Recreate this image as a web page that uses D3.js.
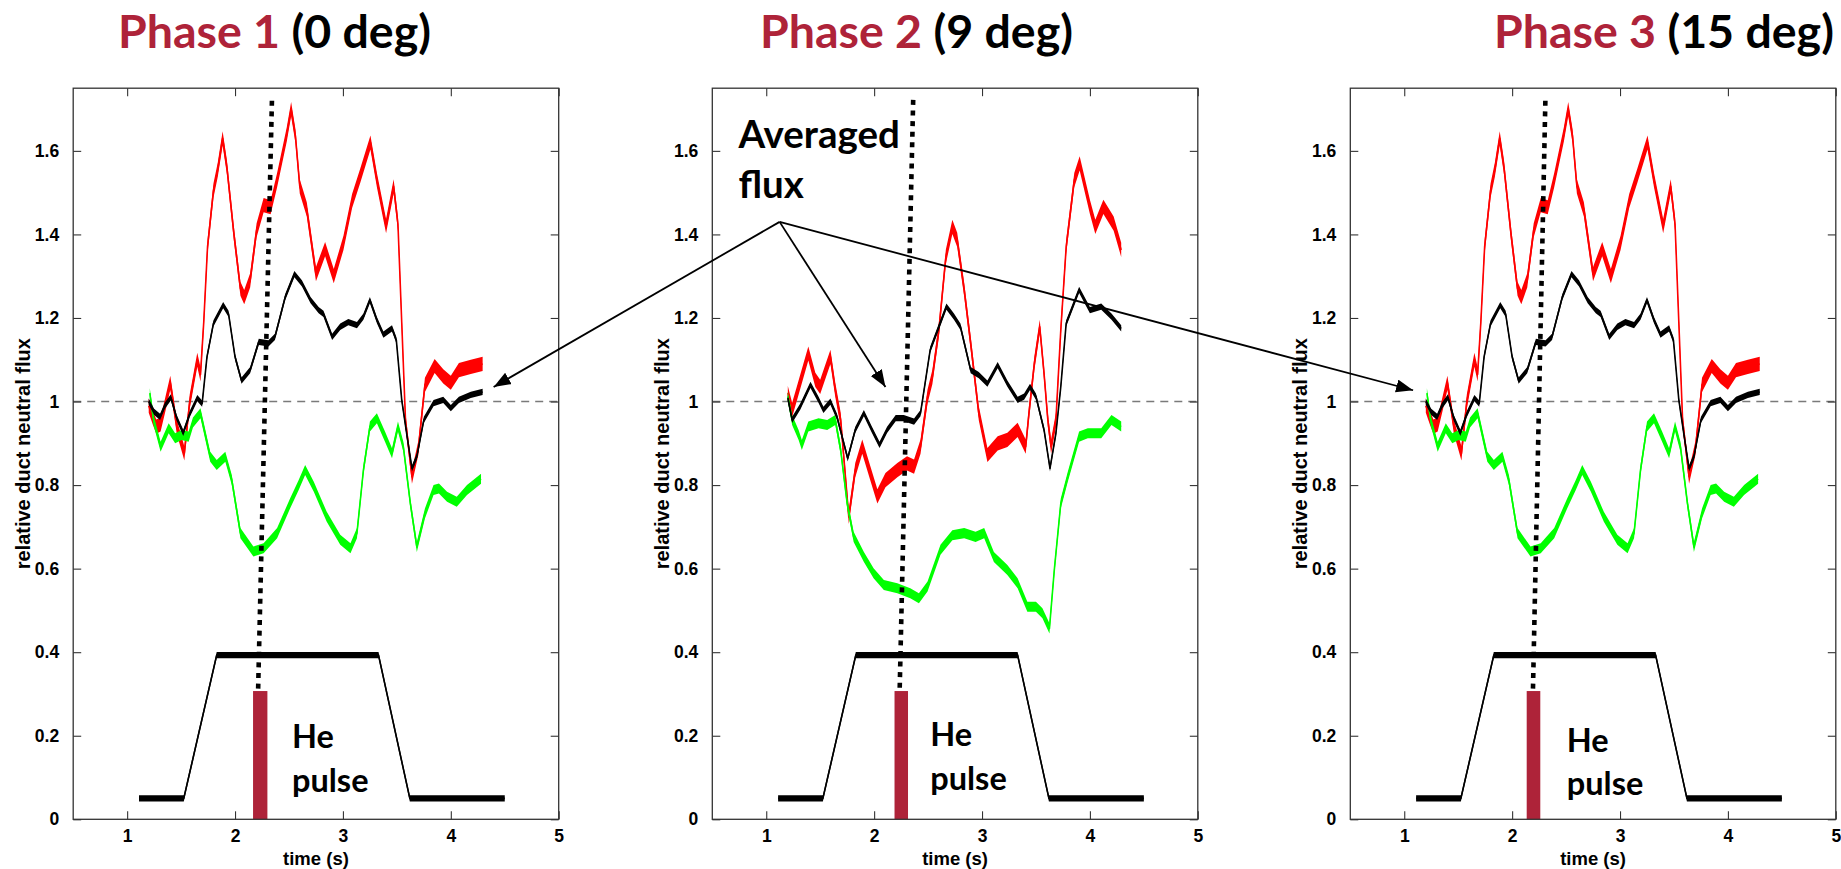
<!DOCTYPE html>
<html>
<head>
<meta charset="utf-8">
<script src="https://cdn.jsdelivr.net/npm/d3@7/dist/d3.min.js"></script>
<style>
  html, body { margin: 0; padding: 0; background: #ffffff; }
  svg { display: block; }
</style>
</head>
<body>
<svg id="chart" width="1841" height="869"></svg>
<script>
// ---------- Axis ticks ----------
const xTicks = [1, 2, 3, 4, 5];
const yTicks = [0, 0.2, 0.4, 0.6, 0.8, 1, 1.2, 1.4, 1.6];
const yTickLabels = ["0", "0.2", "0.4", "0.6", "0.8", "1", "1.2", "1.4", "1.6"];
const xDomain = [0.5, 5];
const yDomain = [0, 1.75];
const referenceLevel = 1;

// ---------- Panel titles ----------
const phaseNames = ["Phase 1", "Phase 2", "Phase 3"];
const phaseAngles = ["(0 deg)", "(9 deg)", "(15 deg)"];

// ---------- Phase 1 (0 deg): relative duct neutral flux, [time s, flux] ----------
const phase1Red = [
  [1.20,0.99],[1.24,0.96],[1.27,0.94],[1.31,0.945],[1.36,1.00],[1.40,1.045],[1.46,0.94],
  [1.53,0.876],[1.58,1.00],[1.65,1.10],[1.68,1.065],[1.71,1.19],[1.745,1.37],[1.80,1.505],
  [1.84,1.555],[1.885,1.63],[1.925,1.56],[1.99,1.40],[2.05,1.27],[2.085,1.25],[2.14,1.29],
  [2.20,1.41],[2.265,1.47],[2.33,1.465],[2.39,1.53],[2.48,1.64],[2.52,1.70],[2.56,1.635],
  [2.60,1.515],[2.665,1.46],[2.75,1.305],[2.835,1.365],[2.915,1.30],[3.005,1.38],[3.085,1.48],
  [3.16,1.54],[3.255,1.62],[3.315,1.53],[3.40,1.42],[3.47,1.515],[3.51,1.425],[3.545,1.19],
  [3.58,0.955],[3.64,0.82],[3.70,0.89],[3.76,1.04],[3.85,1.085],[3.93,1.06],[4.00,1.045],
  [4.075,1.075],[4.185,1.083],[4.295,1.09]
];
const phase1Green = [
  [1.21,1.02],[1.245,0.956],[1.31,0.892],[1.385,0.936],[1.445,0.912],[1.505,0.92],[1.57,0.916],
  [1.61,0.95],[1.68,0.972],[1.77,0.868],[1.83,0.848],[1.91,0.868],[1.97,0.812],[2.05,0.685],
  [2.17,0.641],[2.265,0.649],[2.39,0.685],[2.51,0.756],[2.59,0.80],[2.65,0.836],[2.73,0.796],
  [2.85,0.724],[2.975,0.669],[3.07,0.649],[3.13,0.685],[3.19,0.836],[3.25,0.94],[3.315,0.96],
  [3.39,0.916],[3.455,0.876],[3.51,0.94],[3.56,0.892],[3.625,0.756],[3.685,0.652],[3.76,0.732],
  [3.84,0.788],[3.89,0.792],[3.965,0.772],[4.055,0.76],[4.15,0.788],[4.28,0.815]
];
const phase1Average = [
  [1.20,1.00],[1.25,0.975],[1.305,0.963],[1.35,0.99],[1.405,1.01],[1.46,0.96],[1.52,0.925],
  [1.58,0.97],[1.65,1.008],[1.695,0.995],[1.74,1.107],[1.80,1.187],[1.89,1.231],[1.94,1.21],
  [2.00,1.107],[2.06,1.05],[2.14,1.075],[2.22,1.143],[2.31,1.139],[2.37,1.155],[2.465,1.25],
  [2.55,1.305],[2.62,1.283],[2.70,1.243],[2.775,1.219],[2.82,1.21],[2.90,1.155],[2.975,1.179],
  [3.05,1.19],[3.13,1.183],[3.19,1.203],[3.25,1.243],[3.315,1.195],[3.375,1.16],[3.455,1.175],
  [3.495,1.147],[3.545,1.004],[3.595,0.916],[3.64,0.84],[3.685,0.868],[3.75,0.956],[3.84,0.996],
  [3.93,1.004],[4.00,0.984],[4.075,1.004],[4.185,1.016],[4.295,1.023]
];

// ---------- Phase 2 (9 deg) ----------
const phase2Red = [
  [1.20,1.02],[1.24,0.98],[1.285,1.02],[1.39,1.115],[1.455,1.052],[1.50,1.035],[1.595,1.107],
  [1.64,1.028],[1.69,0.956],[1.765,0.724],[1.825,0.836],[1.89,0.892],[1.965,0.828],[2.03,0.773],
  [2.105,0.812],[2.215,0.836],[2.305,0.852],[2.37,0.844],[2.43,0.892],[2.495,1.012],[2.54,1.059],
  [2.60,1.171],[2.665,1.347],[2.725,1.418],[2.77,1.387],[2.835,1.267],[2.895,1.139],[2.97,0.972],
  [3.05,0.872],[3.145,0.90],[3.235,0.908],[3.33,0.932],[3.405,0.892],[3.435,0.972],[3.485,1.091],
  [3.535,1.179],[3.575,1.067],[3.61,0.956],[3.64,0.892],[3.685,0.956],[3.73,1.171],[3.78,1.37],
  [3.855,1.53],[3.905,1.57],[4.00,1.466],[4.05,1.418],[4.125,1.466],[4.22,1.426],[4.29,1.363]
];
const phase2Green = [
  [1.20,1.012],[1.24,0.956],[1.30,0.92],[1.33,0.896],[1.39,0.94],[1.485,0.948],[1.565,0.944],
  [1.64,0.956],[1.69,0.884],[1.75,0.756],[1.81,0.676],[1.905,0.628],[1.995,0.589],[2.09,0.561],
  [2.215,0.553],[2.335,0.541],[2.415,0.529],[2.495,0.557],[2.615,0.645],[2.725,0.68],[2.835,0.685],
  [2.94,0.676],[3.02,0.685],[3.11,0.628],[3.235,0.597],[3.33,0.565],[3.42,0.509],[3.50,0.509],
  [3.56,0.493],[3.625,0.457],[3.67,0.597],[3.73,0.756],[3.795,0.82],[3.90,0.916],[3.98,0.924],
  [4.105,0.924],[4.20,0.956],[4.29,0.94]
];
const phase2Average = [
  [1.20,1.008],[1.24,0.956],[1.315,0.988],[1.41,1.04],[1.485,1.004],[1.53,0.98],[1.595,1.0],
  [1.655,0.964],[1.755,0.864],[1.825,0.932],[1.905,0.972],[1.98,0.932],[2.05,0.896],[2.12,0.932],
  [2.20,0.96],[2.275,0.96],[2.37,0.952],[2.43,0.972],[2.52,1.124],[2.60,1.179],[2.67,1.227],
  [2.74,1.203],[2.80,1.179],[2.895,1.075],[2.97,1.063],[3.05,1.043],[3.145,1.087],[3.235,1.043],
  [3.33,1.004],[3.39,1.012],[3.445,1.035],[3.50,1.012],[3.575,0.932],[3.63,0.84],[3.685,0.924],
  [3.73,1.035],[3.78,1.187],[3.90,1.267],[4.00,1.219],[4.105,1.227],[4.20,1.203],[4.29,1.175]
];

// ---------- Phase 3 (15 deg): same measured signals as phase 1 ----------
const phase3Red = phase1Red;
const phase3Green = phase1Green;
const phase3Average = phase1Average;

// ---------- Gas-puff waveform (common to all phases) ----------
const puffWaveform = [[1.11,0.05],[1.525,0.05],[1.83,0.393],[3.33,0.393],[3.62,0.05],[4.50,0.05]];

// ---------- He pulse timing per phase ----------
const hePulseStart = [2.167, 2.189, 2.135];
const hePulseEnd   = [2.300, 2.314, 2.261];
const hePulseLevel = 0.307;
// dotted timing guide: [t_top, v_top, t_bottom, v_bottom]
const timingGuide = [
  [2.342, 1.72, 2.214, 0.31],
  [2.362, 1.722, 2.237, 0.313],
  [2.308, 1.72, 2.193, 0.31]
];

// ---------- Annotations ----------
const heLabelAnchor = [[2.528, 0.170], [2.520, 0.175], [2.507, 0.162]];
const avgLabelAnchor = [0.742, 1.606];           // in phase 2 axes
const avgArrowApex = [1.124, 1.430];             // in phase 2 axes
const avgArrowTips = [[4.397, 1.035], [2.105, 1.035], [1.082, 1.027]]; // one per phase

// ---------- Layout & style ----------
const layout = {
  panelLeft: [73.2, 712.3, 1350.3],
  panelWidth: 485.5,
  top: 88.2,
  bottom: 819.3,
  titleX: [118, 760, 1494],
  titleY: 48,
  yLabelOffset: -50.5
};
const style = {
  red: "#ff0000", green: "#00ff00", black: "#000000",
  maroon: "#ae2339",
  frame: "#333333",
  bandRed: 0.017, bandGreen: 0.012, bandBlack: 0.0075, bandPuff: 0.0075,
  tickFont: "'Liberation Sans', Arial, Helvetica, sans-serif",
  noteFont: "Lato, 'Open Sans', sans-serif"
};

const panels = [
  { red: phase1Red, green: phase1Green, avg: phase1Average },
  { red: phase2Red, green: phase2Green, avg: phase2Average },
  { red: phase3Red, green: phase3Green, avg: phase3Average }
];

const svg = d3.select("#chart");
const scales = [];

function drawTrace(g, data, w, color, x, y) {
  g.append("path").datum(data)
    .attr("d", d3.area().x(d => x(d[0])).y0(d => y(d[1] - w)).y1(d => y(d[1] + w)))
    .attr("fill", color);
  g.append("path").datum(data)
    .attr("d", d3.line().x(d => x(d[0])).y(d => y(d[1])))
    .attr("fill", "none").attr("stroke", color)
    .attr("stroke-width", 1.6).attr("stroke-linejoin", "round");
}

panels.forEach((p, i) => {
  const L = layout.panelLeft[i];
  const x = d3.scaleLinear().domain(xDomain).range([L, L + layout.panelWidth]);
  const y = d3.scaleLinear().domain(yDomain).range([layout.bottom, layout.top]);
  scales.push({ x, y });
  const g = svg.append("g").attr("class", "panel");

  // reference level
  g.append("line")
    .attr("x1", x(xDomain[0])).attr("x2", x(xDomain[1]))
    .attr("y1", y(referenceLevel)).attr("y2", y(referenceLevel))
    .attr("stroke", "#7a7a7a").attr("stroke-width", 1.4)
    .attr("stroke-dasharray", "8,6");

  // gas-puff waveform
  drawTrace(g, puffWaveform, style.bandPuff, style.black, x, y);

  // flux traces
  drawTrace(g, p.red, style.bandRed, style.red, x, y);
  drawTrace(g, p.green, style.bandGreen, style.green, x, y);
  drawTrace(g, p.avg, style.bandBlack, style.black, x, y);

  // He pulse bar
  g.append("rect")
    .attr("x", x(hePulseStart[i]))
    .attr("width", x(hePulseEnd[i]) - x(hePulseStart[i]))
    .attr("y", y(hePulseLevel))
    .attr("height", y(0) - y(hePulseLevel))
    .attr("fill", style.maroon);

  // dotted timing guide
  const tg = timingGuide[i];
  g.append("line")
    .attr("x1", x(tg[0])).attr("y1", y(tg[1]))
    .attr("x2", x(tg[2])).attr("y2", y(tg[3]))
    .attr("stroke", "#000").attr("stroke-width", 4.6)
    .attr("stroke-dasharray", "5,5.6");

  // axes (ticks pointing inward on all four sides)
  const fmtY = d => yTickLabels[yTicks.indexOf(d)];
  const axes = [
    { ax: d3.axisBottom(x).tickValues(xTicks).tickFormat(d3.format("d")).tickSizeInner(-8).tickSizeOuter(0).tickPadding(10), tr: `translate(0,${y(yDomain[0])})` },
    { ax: d3.axisTop(x).tickValues(xTicks).tickFormat("").tickSizeInner(-8).tickSizeOuter(0), tr: `translate(0,${y(yDomain[1])})` },
    { ax: d3.axisLeft(y).tickValues(yTicks).tickFormat(fmtY).tickSizeInner(-8).tickSizeOuter(0).tickPadding(14), tr: `translate(${x(xDomain[0])},0)` },
    { ax: d3.axisRight(y).tickValues(yTicks).tickFormat("").tickSizeInner(-8).tickSizeOuter(0), tr: `translate(${x(xDomain[1])},0)` }
  ];
  axes.forEach(a => {
    const ag = g.append("g").attr("transform", a.tr).call(a.ax);
    ag.select(".domain").remove();
    ag.selectAll(".tick line").attr("stroke", style.frame).attr("stroke-width", 1.1);
    ag.selectAll(".tick text")
      .attr("font-family", style.tickFont).attr("font-weight", "bold")
      .attr("font-size", 17.5).attr("fill", "#000");
  });

  // axes box
  g.append("rect")
    .attr("x", x(xDomain[0])).attr("y", y(yDomain[1]))
    .attr("width", x(xDomain[1]) - x(xDomain[0]))
    .attr("height", y(yDomain[0]) - y(yDomain[1]))
    .attr("fill", "none").attr("stroke", style.frame).attr("stroke-width", 1.3);

  // axis titles
  g.append("text")
    .attr("x", (x(xDomain[0]) + x(xDomain[1])) / 2).attr("y", 865)
    .attr("text-anchor", "middle")
    .attr("font-family", style.tickFont).attr("font-weight", "bold").attr("font-size", 18.5)
    .text("time (s)");
  const ly = (y(yDomain[0]) + y(yDomain[1])) / 2;
  const lx = L + layout.yLabelOffset;
  g.append("text")
    .attr("transform", `translate(${lx},${ly}) rotate(-90)`)
    .attr("text-anchor", "middle").attr("dy", "0.35em")
    .attr("font-family", style.tickFont).attr("font-weight", "bold").attr("font-size", 20)
    .text("relative duct neutral flux");

  // panel title
  const t = svg.append("text")
    .attr("x", layout.titleX[i]).attr("y", layout.titleY)
    .attr("font-family", style.noteFont).attr("font-weight", "bold").attr("font-size", 46.5);
  t.append("tspan").attr("fill", style.maroon).text(phaseNames[i]);
  t.append("tspan").attr("fill", "#000").text(" " + phaseAngles[i]);

  // He pulse label
  const ha = heLabelAnchor[i];
  const ht = g.append("text")
    .attr("font-family", style.noteFont).attr("font-weight", "bold").attr("font-size", 32.5)
    .attr("fill", "#000");
  ht.append("tspan").attr("x", x(ha[0])).attr("y", y(ha[1])).text("He");
  ht.append("tspan").attr("x", x(ha[0])).attr("dy", 43.5).text("pulse");
});

// "Averaged flux" callout with arrows into each phase
const s2 = scales[1];
const at = svg.append("text")
  .attr("font-family", style.noteFont).attr("font-weight", "bold").attr("font-size", 38.5)
  .attr("fill", "#000");
at.append("tspan").attr("x", s2.x(avgLabelAnchor[0])).attr("y", s2.y(avgLabelAnchor[1])).text("Averaged");
at.append("tspan").attr("x", s2.x(avgLabelAnchor[0])).attr("dy", 50).text("flux");

svg.append("defs").append("marker")
  .attr("id", "arrowhead")
  .attr("markerUnits", "userSpaceOnUse")
  .attr("markerWidth", 18).attr("markerHeight", 14)
  .attr("refX", 17).attr("refY", 6.5)
  .attr("orient", "auto")
  .append("path").attr("d", "M0,0 L17,6.5 L0,13 Z").attr("fill", "#000");

const apexX = s2.x(avgArrowApex[0]), apexY = s2.y(avgArrowApex[1]);
avgArrowTips.forEach((tip, i) => {
  const s = scales[i];
  svg.append("line")
    .attr("x1", apexX).attr("y1", apexY)
    .attr("x2", s.x(tip[0])).attr("y2", s.y(tip[1]))
    .attr("stroke", "#000").attr("stroke-width", 1.8)
    .attr("marker-end", "url(#arrowhead)");
});
</script>
</body>
</html>
